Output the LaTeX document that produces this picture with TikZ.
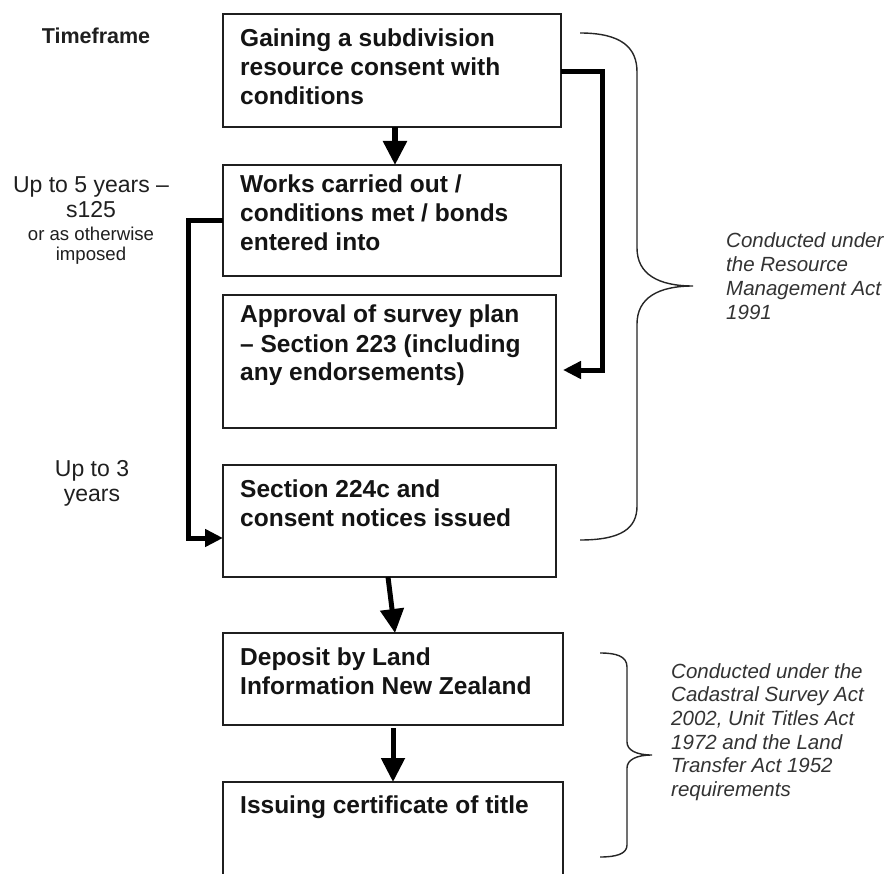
\documentclass[tikz,border=0pt]{standalone}
\usepackage{fontspec}
\setmainfont{Liberation Sans}
\usetikzlibrary{arrows.meta,calc}
\newcommand\tblines[1]{\parbox[t]{330pt}{\raggedright #1}}
\newcommand\cblines[1]{\parbox[t]{170pt}{\centering #1}}
\tikzset{
  box/.style={draw=black!88, line width=1.4pt, anchor=north west, inner sep=0pt, outer sep=0pt},
  boxtext/.style={anchor=base west, inner sep=0pt, text=black!92, font=\bfseries\fontsize{24.5}{29}\selectfont},
  timetext/.style={anchor=base, inner sep=0pt, text=black!88, font=\fontsize{23}{25}\selectfont},
  smalltime/.style={anchor=base, inner sep=0pt, text=black!88, font=\fontsize{18.6}{20}\selectfont},
  sidenote/.style={anchor=base west, inner sep=0pt, text=black!80, font=\itshape\fontsize{20.5}{23.7}\selectfont},
  bigarrow/.style={draw=black, line width=5.5pt, -{Triangle[length=24pt,width=23pt]}},
  elbow/.style={draw=black, line width=5pt, line join=miter, -{Triangle[length=18pt,width=17pt]}},
  bracepath/.style={draw=black!85, line width=1.4pt}
}
\begin{document}
\begin{tikzpicture}[x=1pt,y=-1pt]
\useasboundingbox (0,0) rectangle (888,874);
\clip (0,0) rectangle (888,874);
\fill[white] (0,0) rectangle (888,874);

% boxes
\node[box, minimum width=338pt, minimum height=113pt] (b1) at (223,14) {};
\node[box, minimum width=338pt, minimum height=111pt] (b2) at (223,165) {};
\node[box, minimum width=333pt, minimum height=133pt] (b3) at (223,295) {};
\node[box, minimum width=333pt, minimum height=112pt] (b4) at (223,465) {};
\node[box, minimum width=340pt, minimum height=92pt] (b5) at (223,633) {};
\node[box, minimum width=340pt, minimum height=96pt] (b6) at (223,782) {};

% box texts
\node[boxtext] (t1) at (240,47) {\tblines{Gaining a subdivision\\resource consent with\\conditions}};
\node[boxtext] (t2) at (240,193) {\tblines{Works carried out /\\conditions met / bonds\\entered into}};
\node[boxtext] (t3) at (240,323) {\tblines{Approval of survey plan\\– Section 223 (including\\any endorsements)}};
\node[boxtext] (t4) at (240,497) {\tblines{Section 224c and\\consent notices issued}};
\node[boxtext] (t5) at (240,665) {\tblines{Deposit by Land\\Information New Zealand}};
\node[boxtext] (t6) at (240,813) {\tblines{Issuing certificate of title}};

% timeframe texts
\node[timetext, font=\bfseries\fontsize{21.5}{25}\selectfont] (tf) at (96,44) {Timeframe};
\node[timetext] (up5) at (91,193) {\cblines{Up to 5 years –\\s125}};
\node[smalltime] (oao) at (91,241) {\cblines{or as otherwise\\imposed}};
\node[timetext] (up3) at (92,476) {\cblines{Up to 3\\years}};

% side notes
\node[sidenote] (n1) at (726,248) {\parbox[t]{170pt}{\raggedright Conducted under\\the Resource\\Management Act\\1991}};
\node[sidenote] (n2) at (671,678) {\parbox[t]{220pt}{\raggedright Conducted under the\\Cadastral Survey Act\\2002, Unit Titles Act\\1972 and the Land\\Transfer Act 1952\\requirements}};

% straight arrows
\draw[bigarrow] ([xshift=3pt]b1.south) -- ([xshift=3pt]b1.south |- b2.north);
\draw[bigarrow, line width=5pt] ([xshift=-1.5pt]b4.south) -- ([xshift=2pt]b5.north);
\draw[bigarrow, line width=5pt] ([yshift=-3pt]b5.south) -- (b6.north);

% elbow arrows
\coordinate (lcorner) at ([xshift=-35pt]b2.west);
\coordinate (ltarget) at ([yshift=-17pt]b4.west);
\draw[elbow] (b2.west) -- (lcorner) |- (ltarget);
\coordinate (rstart) at ([yshift=-1.5pt]b1.east);
\coordinate (rtarget) at ([xshift=7pt,yshift=-8.5pt]b3.east);
\draw[elbow] (rstart) -- ++(41,0) |- (rtarget);

% braces
\draw[bracepath] (580,33) .. controls (622,33) and (637,48) .. (637,72)
  -- (637,248) .. controls (637,274) and (658,286) .. (693,286)
  .. controls (658,286) and (637,298) .. (637,324)
  -- (637,506) .. controls (637,528) and (622,540) .. (580,540);
\draw[bracepath] (600,653) .. controls (616,653) and (627,656) .. (627,667)
  -- (627,742) .. controls (627,750) and (636,755) .. (652,755)
  .. controls (636,755) and (627,760) .. (627,768)
  -- (627,845) .. controls (627,854) and (616,857) .. (600,857);
\end{tikzpicture}
\end{document}
